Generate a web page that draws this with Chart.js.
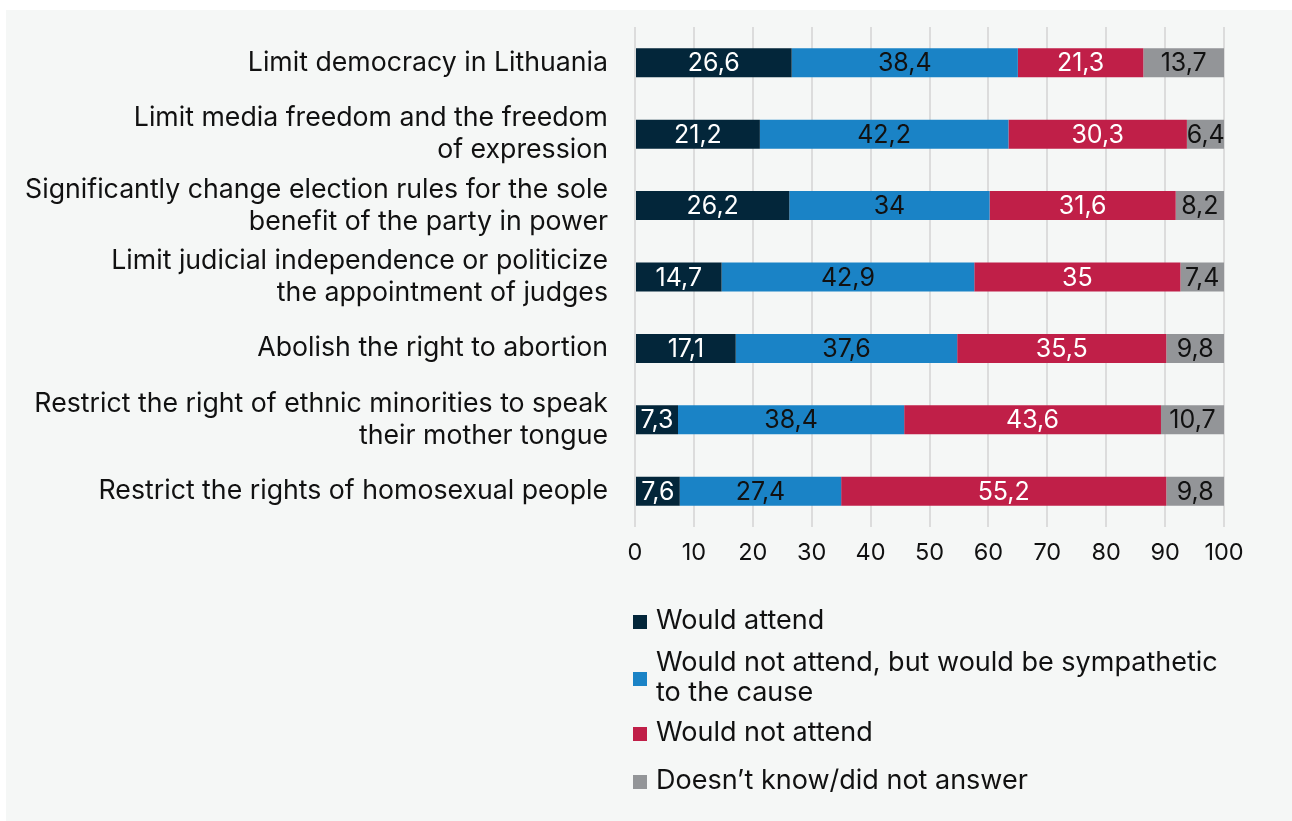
<!DOCTYPE html>
<html>
<head>
<meta charset="utf-8">
<script src="https://cdn.jsdelivr.net/npm/chart.js@4"></script>
<style>
  html, body { margin: 0; padding: 0; background: #ffffff; }
  #wrap { position: absolute; left: 6px; top: 10px; width: 1286px; height: 811px; background: #f5f7f6; }
</style>
</head>
<body>
<div id="wrap"><canvas id="myChart" width="1286" height="811"></canvas></div>
<script>
// categories (multi-line labels as in the source)
var categories = [
  ['Limit democracy in Lithuania'],
  ['Limit media freedom and the freedom', 'of expression'],
  ['Significantly change election rules for the sole', 'benefit of the party in power'],
  ['Limit judicial independence or politicize', 'the appointment of judges'],
  ['Abolish the right to abortion'],
  ['Restrict the right of ethnic minorities to speak', 'their mother tongue'],
  ['Restrict the rights of homosexual people']
];

var wouldAttend      = [26.6, 21.2, 26.2, 14.7, 17.1, 7.3, 7.6];
var sympathetic      = [38.4, 42.2, 34, 42.9, 37.6, 38.4, 27.4];
var wouldNotAttend   = [21.3, 30.3, 31.6, 35, 35.5, 43.6, 55.2];
var dontKnow         = [13.7, 6.4, 8.2, 7.4, 9.8, 10.7, 9.8];

var xTicks = [0, 10, 20, 30, 40, 50, 60, 70, 80, 90, 100];

var seriesNames = [
  ['Would attend'],
  ['Would not attend, but would be sympathetic', 'to the cause'],
  ['Would not attend'],
  ['Doesn\u2019t know/did not answer']
];
var seriesColors = ['#03263a', '#1a83c6', '#c01f48', '#939598'];
var labelColors  = ['#ffffff', '#111111', '#ffffff', '#111111'];

var FONT = 'Inter, "Noto Sans", sans-serif';

// value labels in the middle of each segment
var valueLabels = {
  id: 'valueLabels',
  afterDatasetsDraw: function(chart) {
    var ctx = chart.ctx;
    ctx.save();
    ctx.font = '25px ' + FONT;
    ctx.textAlign = 'center';
    ctx.textBaseline = 'middle';
    chart.data.datasets.forEach(function(ds, i) {
      var meta = chart.getDatasetMeta(i);
      meta.data.forEach(function(bar, j) {
        var v = ds.data[j];
        var cx = (bar.x + bar.base) / 2;
        ctx.fillStyle = labelColors[i];
        ctx.fillText(String(v).replace('.', ','), cx, bar.y + 1);
      });
    });
    ctx.restore();
  }
};

// legend below the axis, vertical, multi-line text
var customLegend = {
  id: 'customLegend',
  afterDraw: function(chart) {
    var ctx = chart.ctx;
    var left = chart.chartArea.left + 2;
    var rows = [611, 653, 723, 771]; // first-line centers
    ctx.save();
    ctx.font = '27px ' + FONT;
    ctx.textBaseline = 'middle';
    ctx.textAlign = 'left';
    seriesNames.forEach(function(lines, i) {
      var y0 = rows[i];
      var midY = y0 + (lines.length - 1) * 15;
      ctx.fillStyle = seriesColors[i];
      ctx.fillRect(left - 4, midY - 6, 14, 14);
      ctx.fillStyle = '#111111';
      lines.forEach(function(t, k) {
        ctx.fillText(t, left + 19, y0 + k * 30);
      });
    });
    ctx.restore();
  }
};

var ctx = document.getElementById('myChart').getContext('2d');
new Chart(ctx, {
  type: 'bar',
  data: {
    labels: categories,
    datasets: [
      { label: seriesNames[0].join(' '), data: wouldAttend,    backgroundColor: seriesColors[0] },
      { label: seriesNames[1].join(' '), data: sympathetic,    backgroundColor: seriesColors[1] },
      { label: seriesNames[2].join(' '), data: wouldNotAttend, backgroundColor: seriesColors[2] },
      { label: seriesNames[3].join(' '), data: dontKnow,       backgroundColor: seriesColors[3] }
    ]
  },
  options: {
    indexAxis: 'y',
    responsive: false,
    animation: false,
    layout: { padding: { left: 0, right: 68, top: 17, bottom: 244 } },
    datasets: { bar: { categoryPercentage: 1, barPercentage: 0.406, borderWidth: 0 } },
    plugins: {
      legend: { display: false },
      tooltip: { enabled: false }
    },
    scales: {
      x: {
        stacked: true,
        min: 0,
        max: 100,
        afterBuildTicks: function(scale) { scale.ticks = xTicks.map(function(v) { return { value: v }; }); },
        afterFit: function(scale) { scale.height = 50; scale.paddingLeft = 0; scale.paddingRight = 0; },
        grid: { color: '#dcdcdc', lineWidth: 2, drawTicks: false },
        border: { display: false },
        ticks: { color: '#111111', font: { family: FONT, size: 23.5 }, padding: 12, maxRotation: 0, autoSkip: false }
      },
      y: {
        stacked: true,
        afterFit: function(scale) { scale.width = 629; scale.paddingTop = 0; scale.paddingBottom = 0; },
        grid: { display: false },
        border: { display: false },
        ticks: { color: '#111111', font: { family: FONT, size: 26.7, lineHeight: 1.2 }, padding: 19, autoSkip: false }
      }
    }
  },
  plugins: [valueLabels, customLegend]
});
</script>
</body>
</html>
